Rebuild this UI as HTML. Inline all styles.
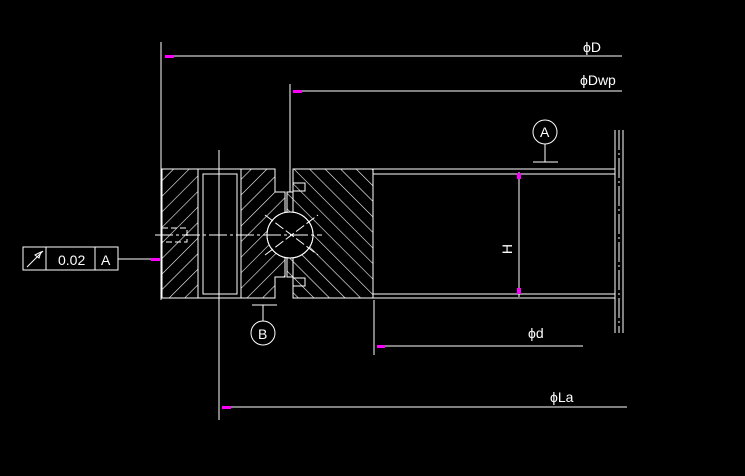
<!DOCTYPE html>
<html><head><meta charset="utf-8"><style>
html,body{margin:0;padding:0;background:#000;}
svg{display:block;}
text{font-family:"Liberation Sans",sans-serif;fill:#fff;}
</style></head><body>
<svg width="745" height="476" viewBox="0 0 745 476" xmlns="http://www.w3.org/2000/svg">
<defs>
<pattern id="h1" patternUnits="userSpaceOnUse" width="11" height="11" patternTransform="rotate(45)">
<line x1="0" y1="0" x2="0" y2="11" stroke="#fff" stroke-width="1.2"/>
</pattern>
<pattern id="h2" patternUnits="userSpaceOnUse" width="11" height="11" patternTransform="rotate(-45)">
<line x1="0" y1="0" x2="0" y2="11" stroke="#fff" stroke-width="1.2"/>
</pattern>
</defs>
<rect width="745" height="476" fill="#000"/>
<g stroke="#fff" stroke-width="1" fill="none" shape-rendering="crispEdges">
<path d="M162 169 H198 V298 H162 Z" fill="url(#h1)"/>
<path d="M241 169 H275 V192 H285 V277 H275 V298 H241 Z" fill="url(#h1)"/>
<path d="M293 169 H373 V298 H293 V277 H287 V192 H293 Z" fill="url(#h2)"/>
<circle cx="290" cy="235" r="23" fill="#000" shape-rendering="auto"/>
<rect x="203" y="174" width="34" height="120" fill="#000"/>
<path d="M162 169 H275 V192 H285"/>
<path d="M162 298 H275 V277 H285"/>
<line x1="162" y1="169" x2="162" y2="298"/>
<line x1="198" y1="169" x2="198" y2="298"/>
<line x1="241" y1="169" x2="241" y2="298"/>
<rect x="203" y="174" width="34" height="120"/>
<path d="M293 169 V192 H287"/>
<path d="M293 298 V277 H287"/>
<line x1="293" y1="169" x2="373" y2="169"/>
<line x1="293" y1="298" x2="373" y2="298"/>
<line x1="373" y1="169" x2="373" y2="298"/>
<circle cx="290" cy="235" r="23" shape-rendering="auto"/>
<line x1="287" y1="192" x2="287" y2="212"/><line x1="293" y1="192" x2="293" y2="212"/>
<line x1="287" y1="258" x2="287" y2="277"/><line x1="293" y1="258" x2="293" y2="277"/>
<rect x="293" y="183" width="12" height="8"/>
<rect x="293" y="278" width="12" height="8"/>
<line x1="265" y1="215" x2="318" y2="255" stroke-dasharray="10,3" shape-rendering="auto"/>
<line x1="265" y1="255" x2="318" y2="215" stroke-dasharray="10,3" shape-rendering="auto"/>
<line x1="155" y1="235" x2="322" y2="235" stroke-dasharray="18,3,3,3"/>
<rect x="162" y="228" width="25" height="14" stroke-dasharray="6,3"/>
<line x1="373" y1="169" x2="615" y2="169"/>
<line x1="373" y1="174" x2="615" y2="174"/>
<line x1="373" y1="294" x2="615" y2="294"/>
<line x1="373" y1="298" x2="615" y2="298"/>
<line x1="615" y1="130" x2="615" y2="333"/>
<line x1="619" y1="130" x2="619" y2="333" stroke-dasharray="20,3,2,3"/>
<line x1="623" y1="130" x2="623" y2="333"/>
<line x1="519" y1="172" x2="519" y2="297"/>
<circle cx="545" cy="132" r="12" shape-rendering="auto"/>
<line x1="545" y1="144" x2="545" y2="162"/>
<line x1="533" y1="162" x2="558" y2="162"/>
<circle cx="263" cy="333" r="12" shape-rendering="auto"/>
<line x1="263" y1="305" x2="263" y2="321"/>
<line x1="252" y1="305" x2="277" y2="305"/>
<line x1="161" y1="42" x2="161" y2="300"/>
<line x1="165" y1="56" x2="622" y2="56"/>
<line x1="290" y1="84" x2="290" y2="192"/>
<line x1="293" y1="91" x2="622" y2="91"/>
<line x1="374" y1="300" x2="374" y2="355"/>
<line x1="377" y1="346" x2="583" y2="346"/>
<line x1="219" y1="150" x2="219" y2="420"/>
<line x1="222" y1="407" x2="627" y2="407"/>
<rect x="23" y="247" width="95" height="23"/>
<line x1="46" y1="247" x2="46" y2="270"/>
<line x1="95" y1="247" x2="95" y2="270"/>
<line x1="118" y1="259" x2="152" y2="259"/>
<line x1="27" y1="267" x2="43" y2="251" shape-rendering="auto"/>
<path d="M35 255 L41 252 L39 258 Z" shape-rendering="auto"/>
</g>
<g fill="#f0f">
<rect x="165" y="55" width="9" height="3"/>
<rect x="293" y="90" width="9" height="3"/>
<rect x="377" y="345" width="8" height="3"/>
<rect x="222" y="406" width="9" height="3"/>
<rect x="151" y="258" width="9" height="3"/>
<rect x="517" y="173" width="4" height="6"/>
<rect x="517" y="288" width="4" height="6"/>
</g>
<g font-size="14">
<text x="583" y="52">ϕD</text>
<text x="580" y="85">ϕDwp</text>
<text x="528" y="338">ϕd</text>
<text x="550" y="402">ϕLa</text>
<text x="58" y="265">0.02</text>
<text x="101" y="265">A</text>
<text x="540" y="137">A</text>
<text x="258" y="339">B</text>
<text x="0" y="0" transform="translate(512,249) rotate(-90)" text-anchor="middle">H</text>
</g>
</svg>
</body></html>
